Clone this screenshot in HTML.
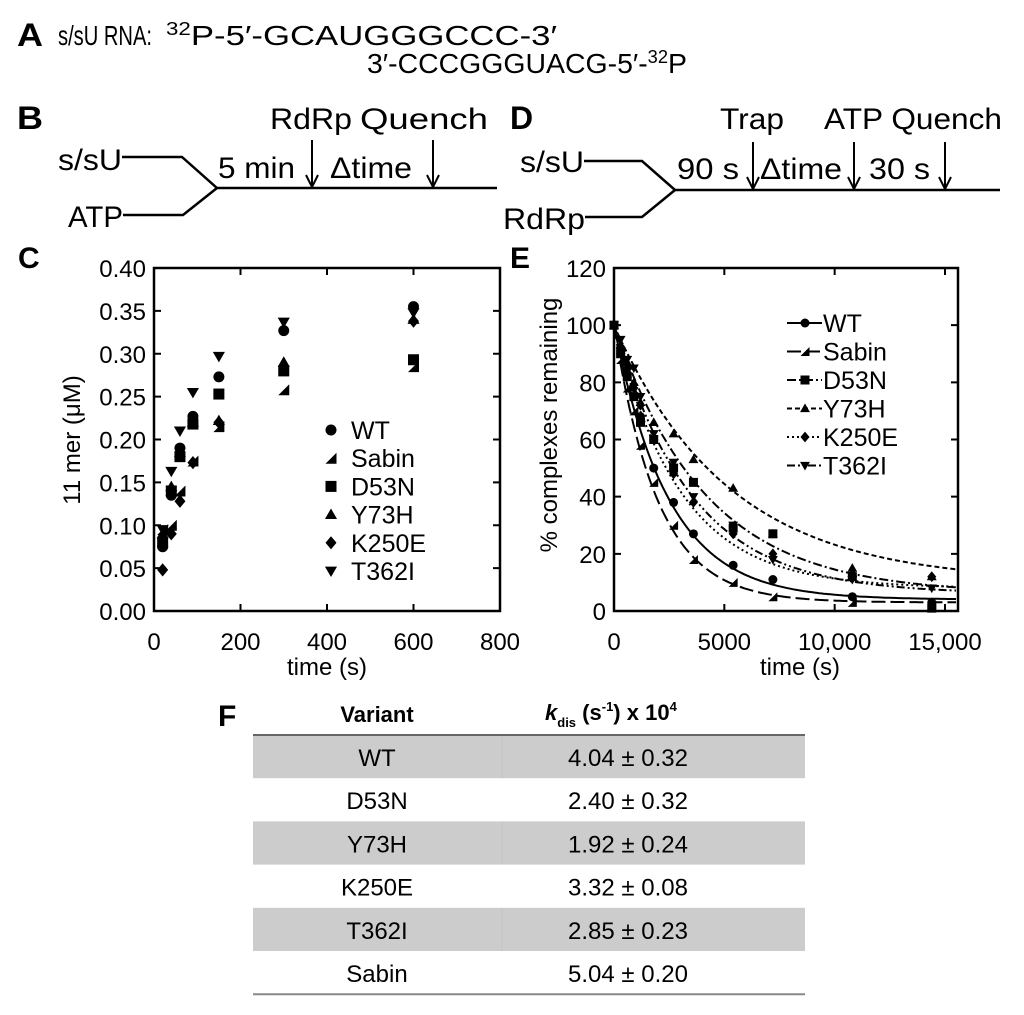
<!DOCTYPE html>
<html><head><meta charset="utf-8"><style>
body{margin:0;background:#fff}
svg{display:block;font-family:"Liberation Sans Narrow","Liberation Sans",sans-serif}
.t{font-family:"Liberation Sans",sans-serif}
</style></head><body>
<svg id="fig" width="1024" height="1015" viewBox="0 0 1024 1015">
<g font-size="28">
<text x="17" y="46" font-size="32" font-weight="bold" class="t" textLength="26" lengthAdjust="spacingAndGlyphs">A</text>
<text x="58" y="45" textLength="94" lengthAdjust="spacingAndGlyphs">s/sU RNA:</text>
<text x="166" y="45" textLength="391" lengthAdjust="spacingAndGlyphs"><tspan font-size="18" dy="-10">32</tspan><tspan dy="10">P-5′-GCAUGGGCCC-3′</tspan></text>
<text x="367" y="73" textLength="320" lengthAdjust="spacingAndGlyphs">3′-CCCGGGUACG-5′-<tspan font-size="18" dy="-10">32</tspan><tspan dy="10">P</tspan></text>
</g>
<g font-size="30">
<text x="17" y="129" font-size="32" font-weight="bold" class="t" textLength="26" lengthAdjust="spacingAndGlyphs">B</text>
<text x="58" y="170" textLength="64" lengthAdjust="spacingAndGlyphs">s/sU</text>
<text x="68" y="227" textLength="55" lengthAdjust="spacingAndGlyphs">ATP</text>
<polyline points="122,157 182,157 217,188 497,188" fill="none" stroke="#000" stroke-width="2.5"/>
<polyline points="123,215 183,215 217,188" fill="none" stroke="#000" stroke-width="2.5"/>
<text x="218" y="178" textLength="77" lengthAdjust="spacingAndGlyphs">5 min</text>
<text x="330" y="178" textLength="82" lengthAdjust="spacingAndGlyphs">Δtime</text>
<text x="270" y="129" textLength="82" lengthAdjust="spacingAndGlyphs">RdRp</text>
<text x="360" y="129" textLength="128" lengthAdjust="spacingAndGlyphs">Quench</text>
<g stroke="#000" stroke-width="2" fill="none"><path d="M312 140V186M306 175L312 187L318 175M433 140V186M427 175L433 187L439 175"/></g>
</g>
<g font-size="30">
<text x="510" y="129" font-size="32" font-weight="bold" class="t">D</text>
<text x="520" y="172" textLength="64" lengthAdjust="spacingAndGlyphs">s/sU</text>
<text x="503" y="229" textLength="82" lengthAdjust="spacingAndGlyphs">RdRp</text>
<polyline points="584,161 642,161 675,190 1000,190" fill="none" stroke="#000" stroke-width="2.5"/>
<polyline points="585,217 642,217 675,190" fill="none" stroke="#000" stroke-width="2.5"/>
<text x="677" y="179" textLength="62" lengthAdjust="spacingAndGlyphs">90 s</text>
<text x="760" y="179" textLength="82" lengthAdjust="spacingAndGlyphs">Δtime</text>
<text x="869" y="179" textLength="61" lengthAdjust="spacingAndGlyphs">30 s</text>
<text x="720" y="129" textLength="64" lengthAdjust="spacingAndGlyphs">Trap</text>
<text x="824" y="129" textLength="178" lengthAdjust="spacingAndGlyphs">ATP Quench</text>
<g stroke="#000" stroke-width="2" fill="none"><path d="M753 142V188M747 177L753 189L759 177M854 142V188M848 177L854 189L860 177M945 142V188M939 177L945 189L951 177"/></g>
</g>
<g id="chartC"></g>
<g id="chartE"></g>
<g id="tableF"></g>
</svg>
<script>
const cTimes=[20,40,60,90,150,300,600];
const cNames=["WT","Sabin","D53N","Y73H","K250E","T362I"];
const cWT=[0.075,0.135,0.19,0.227,0.273,0.327,0.355];
const cSabin=[0.095,0.10,0.14,0.175,0.215,0.258,0.285];
const cD53N=[0.08,0.14,0.18,0.218,0.253,0.28,0.293];
const cY73H=[0.09,0.145,0.185,0.22,0.222,0.29,0.34];
const cK250E=[0.048,0.09,0.128,0.173,0.22,0.285,0.338];
const cT362I=[0.095,0.163,0.21,0.255,0.297,0.337,0.348];
const cYTicks=["0.00","0.05","0.10","0.15","0.20","0.25","0.30","0.35","0.40"];
const cXTicks=[0,200,400,600,800];
const eTimes=[0,300,600,900,1200,1800,2700,3600,5400,7200,10800,14400];
const eWT=[100,92,83,75,68,50,38,27,16,11,5,3];
const eSabin=[100,88,78,70,58,45,30,18,10,5,3,2];
const eD53N=[100,90,82,75,66,60,50,45,29,27,12,1];
const eY73H=[100,93,87,80,73,66,62,53,43,27,15,12];
const eK250E=[100,92,85,78,72,60,48,38,27,20,13,12];
const eT362I=[100,95,88,85,75,62,52,40,30,18,11,8];
const eK=[4.04,5.04,2.40,1.92,3.32,2.85];
const ePlateau=[4,3,6,10,8,6];
const eYTicks=[0,20,40,60,80,100,120];
const eXTicks=[0,5000,10000,15000];
const eXTickLabels=["0","5000","10,000","15,000"];
const tVariants=["WT","D53N","Y73H","K250E","T362I","Sabin"];
const tValues=["4.04 ± 0.32","2.40 ± 0.32","1.92 ± 0.24","3.32 ± 0.08","2.85 ± 0.23","5.04 ± 0.20"];

const NS="http://www.w3.org/2000/svg";
function mk(p,tag,attrs,txt){const e=document.createElementNS(NS,tag);for(const k in attrs)e.setAttribute(k,attrs[k]);if(txt!=null)e.textContent=txt;p.appendChild(e);return e;}
function marker(g,type,x,y,r){
 let e;
 if(type==="WT") e=mk(g,"circle",{cx:x,cy:y,r:r});
 else if(type==="D53N") e=mk(g,"rect",{x:x-r,y:y-r,width:2*r,height:2*r});
 else if(type==="Y73H") e=mk(g,"path",{d:`M${x} ${y-r*1.1}L${x+r*1.1} ${y+r*0.8}L${x-r*1.1} ${y+r*0.8}Z`});
 else if(type==="T362I") e=mk(g,"path",{d:`M${x} ${y+r*1.1}L${x+r*1.1} ${y-r*0.8}L${x-r*1.1} ${y-r*0.8}Z`});
 else if(type==="K250E") e=mk(g,"path",{d:`M${x} ${y-r*1.2}L${x+r} ${y}L${x} ${y+r*1.2}L${x-r} ${y}Z`});
 else e=mk(g,"path",{d:`M${x+r} ${y-r}L${x+r} ${y+r}L${x-r} ${y+r}Z`});
 return e;
}
// Panel C
(function(){
 const g=document.getElementById("chartC");
 const L=154,R=500,T=268,B=611;
 const xs=v=>L+(v/800)*(R-L), ys=v=>B-(v/0.40)*(B-T);
 const lab=mk(g,"text",{x:18,y:268,"font-size":30,"font-weight":"bold",class:"t"},"C");
 
 
 mk(g,"rect",{x:L,y:T,width:R-L,height:B-T,fill:"none",stroke:"#000","stroke-width":2.5});
 cYTicks.forEach(t=>{const v=parseFloat(t),y=ys(v);
  mk(g,"path",{d:`M${L} ${y}H${L+7}M${R} ${y}H${R-7}`,stroke:"#000","stroke-width":2});
  const e=mk(g,"text",{x:146,y:y+9,"text-anchor":"end","font-size":24},t);
  
  });
 cXTicks.forEach(v=>{const x=xs(v);
  mk(g,"path",{d:`M${x} ${B}V${B-7}M${x} ${T}V${T+7}`,stroke:"#000","stroke-width":2});
  const e=mk(g,"text",{x:x,y:650,"text-anchor":"middle","font-size":24},String(v));
  
  });
 const xt=mk(g,"text",{x:327,y:675,"text-anchor":"middle","font-size":24},"time (s)");
 
 
 const yt=mk(g,"text",{x:0,y:0,"text-anchor":"middle","font-size":24,transform:"translate(80,440) rotate(-90)"},"11 mer (μM)");
 
 
 const series=[cWT,cSabin,cD53N,cY73H,cK250E,cT362I];
 series.forEach((s,i)=>{const sg=mk(g,"g",{fill:"#000"});
  
  
  s.forEach((v,j)=>{const m=marker(sg,cNames[i],xs(cTimes[j]),ys(v),5.5);
   
   });});
 cNames.forEach((n,i)=>{const y=439+i*28.2;const lg=mk(g,"g",{fill:"#000"});
  
  
  marker(lg,n,331,y-9,5.5);
  mk(lg,"text",{x:351,y:y,"font-size":25},n);});
})();
// Panel E
(function(){
 const g=document.getElementById("chartE");
 const L=614,R=958,T=268,B=611;
 const xs=v=>L+v*(331/15000), ys=v=>B-(v/120)*(B-T);
 const lab=mk(g,"text",{x:510,y:268,"font-size":30,"font-weight":"bold",class:"t"},"E");
 
 
 mk(g,"rect",{x:L,y:T,width:R-L,height:B-T,fill:"none",stroke:"#000","stroke-width":2.5});
 eYTicks.forEach(v=>{const y=ys(v);
  mk(g,"path",{d:`M${L} ${y}H${L+7}M${R} ${y}H${R-7}`,stroke:"#000","stroke-width":2});
  const e=mk(g,"text",{x:606,y:y+9,"text-anchor":"end","font-size":24},String(v));
  
  });
 eXTicks.forEach((v,i)=>{const x=xs(v);
  mk(g,"path",{d:`M${x} ${B}V${B-7}M${x} ${T}V${T+7}`,stroke:"#000","stroke-width":2});
  const e=mk(g,"text",{x:x,y:650,"text-anchor":"middle","font-size":24},eXTickLabels[i]);
  
  });
 const xt=mk(g,"text",{x:800,y:675,"text-anchor":"middle","font-size":24},"time (s)");
 
 
 const yt=mk(g,"text",{x:0,y:0,"text-anchor":"middle","font-size":24,transform:"translate(557,425) rotate(-90)"},"% complexes remaining");
 
 
 const dashes=["none","14 5","9 3 2 3","5 3","2 3","8 3 2 3 2 3"];
 const series=[eWT,eSabin,eD53N,eY73H,eK250E,eT362I];
 series.forEach((s,i)=>{
  let d="";for(let t=0;t<=15500;t+=100){const v=(100-ePlateau[i])*Math.exp(-eK[i]*1e-4*t)+ePlateau[i];d+=(t?"L":"M")+xs(t).toFixed(1)+" "+ys(v).toFixed(1);}
  const p=mk(g,"path",{d:d,fill:"none",stroke:"#000","stroke-width":2,"stroke-dasharray":dashes[i]});
  
  
  const sg=mk(g,"g",{fill:"#000"});
  
  
  s.forEach((v,j)=>{const m=marker(sg,cNames[i],xs(eTimes[j]),ys(v),4.5);
   
   });});
 cNames.forEach((n,i)=>{const y=332+i*28.5;const lg=mk(g,"g",{fill:"#000"});
  
  
  mk(lg,"path",{d:`M787 ${y-9}H822`,stroke:"#000","stroke-width":2,"stroke-dasharray":dashes[i]});
  marker(lg,n,805,y-9,4.5);
  mk(lg,"text",{x:823,y:y,"font-size":25},n);});
})();
// Panel F
(function(){
 const g=document.getElementById("tableF");
 const L=253,R=805,M=502,T=735,h=43.2;
 const lab=mk(g,"text",{x:218,y:726,"font-size":30,"font-weight":"bold",class:"t"},"F");
 
 
 const h1=mk(g,"text",{x:377,y:722,"text-anchor":"middle","font-size":22,"font-weight":"bold",class:"t"},"Variant");
 
 
 const h2=mk(g,"text",{x:545,y:720,"font-size":22,"font-weight":"bold",class:"t"});
 
 
 h2.innerHTML='<tspan font-style="italic">k</tspan><tspan font-size="13" dy="7">dis</tspan><tspan dy="-7"> (s</tspan><tspan font-size="13" dy="-9">-1</tspan><tspan dy="9">) x 10</tspan><tspan font-size="13" dy="-9">4</tspan>';
 tVariants.forEach((v,i)=>{const y=T+i*h;
  const r=mk(g,"g",{});
  
  
  if(i%2===0){mk(r,"rect",{x:L,y:y,width:R-L,height:h,fill:"#cccccc"});mk(r,"path",{d:`M${M} ${y}V${y+h}`,stroke:"#c4c4c4","stroke-width":1});}
  mk(r,"text",{x:377,y:y+31,"text-anchor":"middle","font-size":24},v);
  mk(r,"text",{x:628,y:y+31,"text-anchor":"middle","font-size":24},tValues[i]);});
 mk(g,"path",{d:`M${L} ${T}H${R}`,stroke:"#666","stroke-width":2});
 mk(g,"path",{d:`M${L} ${T+6*h}H${R}`,stroke:"#888","stroke-width":2});
})();
</script>
</body></html>
